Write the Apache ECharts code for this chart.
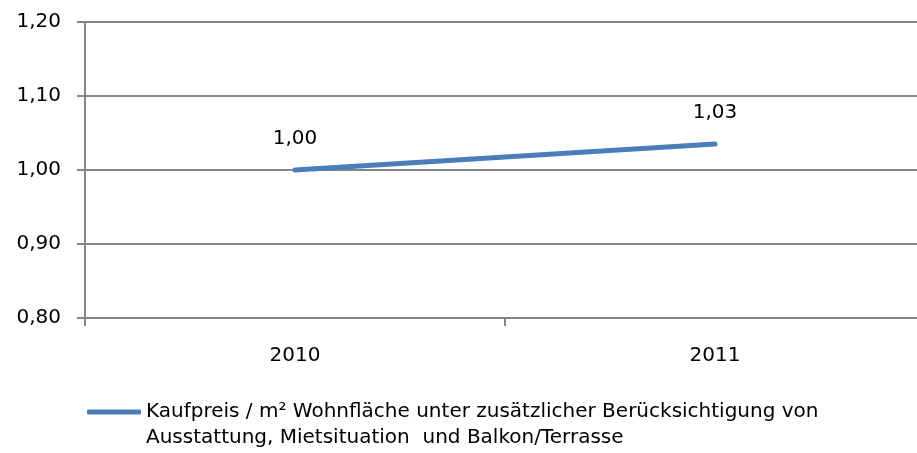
<!DOCTYPE html>
<html>
<head>
    <meta charset="utf-8">
    <title>Kaufpreis je m2</title>
    <script src="https://cdn.jsdelivr.net/npm/echarts@6/dist/echarts.min.js"></script>
    <style>
        html, body { margin: 0; padding: 0; background: #fff; }
        #chart { width: 917px; height: 453px; }
    </style>
</head>
<body>
    <div id="chart"></div>
    <script>
        var years = ['2010', '2011'];
        var values = [1.00, 1.035];
        var seriesName = 'Kaufpreis / m² Wohnfläche unter zusätzlicher Berücksichtigung von';
        var seriesName2 = 'Ausstattung, Mietsituation  und Balkon/Terrasse';

        var fontFamily = '"DejaVu Sans", sans-serif';
        var gridColor = '#868686';

        function deNum(v) {
            return (Math.floor(v * 100 + 1e-6) / 100).toFixed(2).replace('.', ',');
        }

        var myChart = echarts.init(document.getElementById('chart'));
        var option = {
            animation: false,
            grid: {
                left: 85,
                right: -8,
                top: 22,
                bottom: 135,
                containLabel: false,
                outerBoundsMode: 'none'
            },
            xAxis: {
                type: 'category',
                data: years,
                boundaryGap: true,
                axisLine: { show: true, lineStyle: { color: gridColor, width: 2 } },
                axisTick: { show: true, length: 8, lineStyle: { color: gridColor, width: 2 } },
                axisLabel: {
                    margin: 28,
                    color: '#000',
                    fontSize: 20,
                    fontFamily: fontFamily
                },
                splitLine: { show: false }
            },
            yAxis: {
                type: 'value',
                min: 0.8,
                max: 1.2,
                interval: 0.1,
                axisLine: { show: true, lineStyle: { color: gridColor, width: 2 } },
                axisTick: { show: true, length: 8, lineStyle: { color: gridColor, width: 2 } },
                axisLabel: {
                    margin: 24,
                    color: '#000',
                    fontSize: 20,
                    fontFamily: fontFamily,
                    formatter: function (v) { return v.toFixed(2).replace('.', ','); }
                },
                splitLine: { show: true, lineStyle: { color: gridColor, width: 2 } }
            },
            legend: {
                show: true,
                left: 87,
                top: 373,
                padding: 0,
                icon: 'roundRect',
                itemWidth: 54,
                itemHeight: 5,
                itemGap: 0,
                // leading empty line keeps the icon level with the first text line
                formatter: function (name) { return '\n' + name + '\n' + seriesName2; },
                textStyle: {
                    color: '#000',
                    fontSize: 20,
                    fontFamily: fontFamily,
                    lineHeight: 26
                }
            },
            series: [
                {
                    name: seriesName,
                    type: 'line',
                    data: values,
                    showSymbol: true,
                    symbol: 'circle',
                    symbolSize: 0,
                    lineStyle: { color: '#4a7ebb', width: 5, cap: 'round' },
                    itemStyle: { color: '#4a7ebb' },
                    label: {
                        show: true,
                        position: 'top',
                        distance: 21,
                        color: '#000',
                        fontSize: 20,
                        fontFamily: fontFamily,
                        formatter: function (p) { return deNum(p.value); }
                    }
                }
            ]
        };
        myChart.setOption(option);
    </script>
</body>
</html>
